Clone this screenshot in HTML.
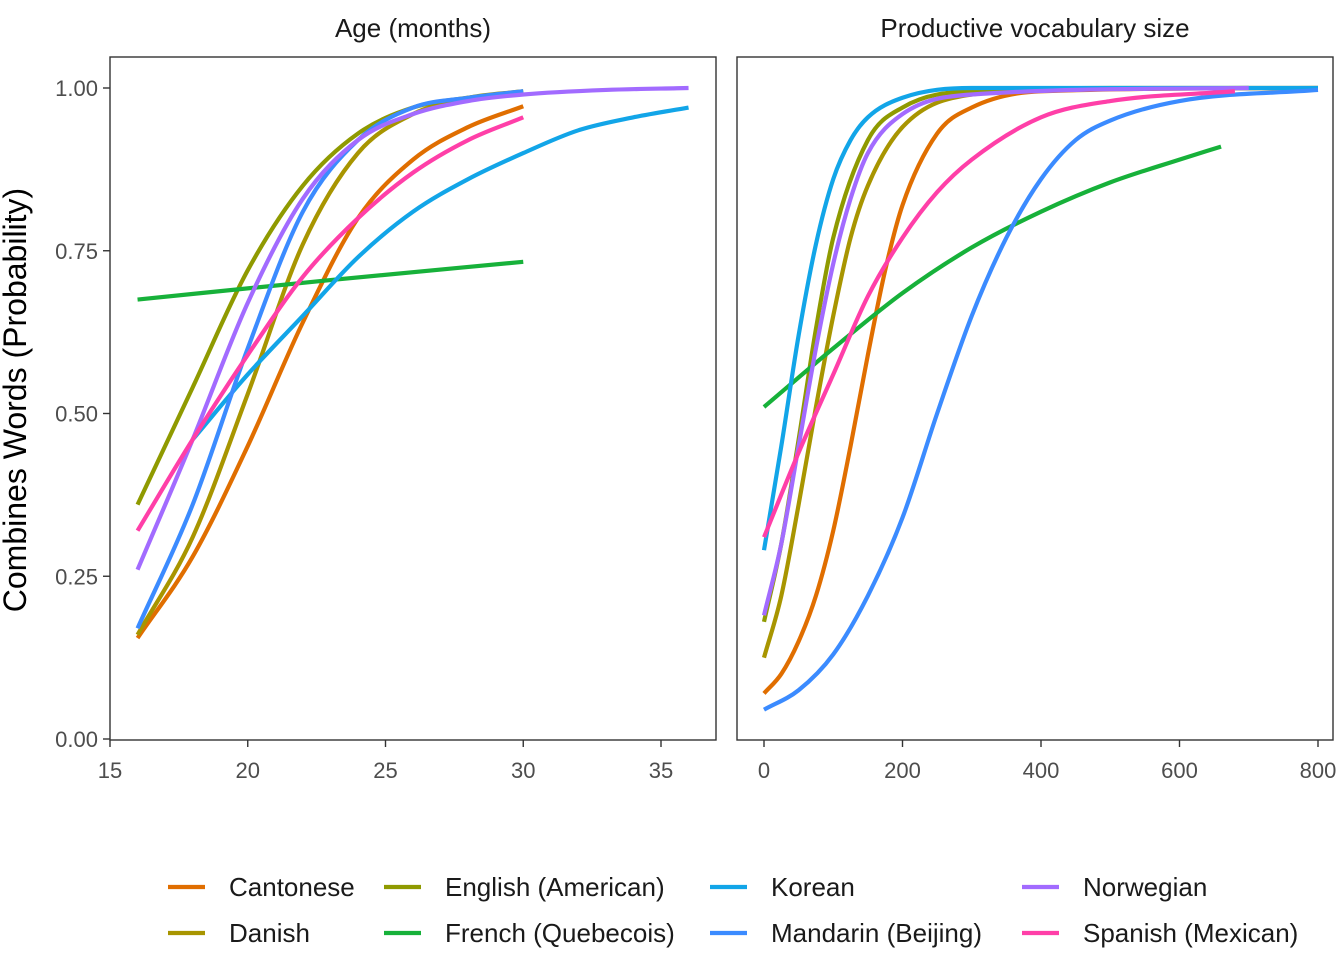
<!DOCTYPE html>
<html><head><meta charset="utf-8">
<style>
body{margin:0;background:#fff;}
svg text{font-family:"Liberation Sans",sans-serif;}
</style></head>
<body>
<svg id="chart" width="1344" height="960" xmlns="http://www.w3.org/2000/svg">
<rect width="1344" height="960" fill="#fff"/>
<g id="root"></g>
</svg>
<script>
const languages = ["Cantonese","Danish","English (American)","French (Quebecois)","Korean","Mandarin (Beijing)","Norwegian","Spanish (Mexican)"];
const colors = ["#E06E00","#A89500","#8F9A00","#17B13A","#12A5E8","#3B8BFF","#A26BFF","#FF3FA8"];
// Age panel: x values (months) and probability values
const ageX = [
 [16,18,20,22,24,26,28,30],
 [16,18,20,22,24,26,28,30],
 [16,18,20,22,24,26,28,30],
 [16,23,30],
 [18,20,22,24,26,28,30,32,34,36],
 [16,18,20,22,24,26,28,30],
 [16,18,20,22,24,26,28,30,33,36],
 [16,18,20,22,24,26,28,30]];
const ageY = [
 [0.155,0.28,0.45,0.64,0.80,0.89,0.94,0.972],
 [0.16,0.31,0.53,0.76,0.90,0.96,0.985,0.995],
 [0.36,0.54,0.72,0.85,0.93,0.97,0.985,0.993],
 [0.675,0.705,0.733],
 [0.46,0.56,0.65,0.74,0.81,0.86,0.90,0.935,0.955,0.97],
 [0.17,0.36,0.60,0.81,0.92,0.97,0.985,0.995],
 [0.26,0.46,0.67,0.83,0.92,0.96,0.98,0.99,0.997,1.0],
 [0.32,0.46,0.59,0.71,0.80,0.87,0.92,0.955]];
// Vocabulary panel
const vocX = [
 [0,25,50,75,100,125,150,175,200,250,300,400,800],
 [0,25,50,75,100,125,150,200,300,500,800],
 [0,25,50,75,100,150,200,300,700],
 [0,100,200,300,400,500,600,660],
 [0,25,50,75,100,125,150,200,300,800],
 [0,50,100,150,200,250,300,350,400,450,500,600,800],
 [0,25,50,75,100,125,150,200,300,700],
 [0,50,100,150,200,250,300,400,500,680]];
const vocY = [
 [0.07,0.10,0.15,0.22,0.32,0.45,0.59,0.72,0.82,0.93,0.97,0.995,1.0],
 [0.125,0.22,0.36,0.51,0.65,0.77,0.85,0.94,0.99,1.0,1.0],
 [0.18,0.30,0.46,0.63,0.77,0.92,0.97,0.995,1.0],
 [0.51,0.60,0.685,0.755,0.81,0.855,0.89,0.91],
 [0.29,0.45,0.62,0.76,0.86,0.92,0.955,0.985,1.0,1.0],
 [0.045,0.075,0.13,0.22,0.34,0.50,0.65,0.77,0.86,0.92,0.95,0.98,0.997],
 [0.19,0.30,0.45,0.60,0.73,0.83,0.90,0.96,0.99,1.0],
 [0.31,0.44,0.56,0.68,0.77,0.84,0.89,0.955,0.98,0.995]];
const yTicks = [0,0.25,0.5,0.75,1.0];
const yTickLabels = ["0.00","0.25","0.50","0.75","1.00"];
const ageTicks = [15,20,25,30,35];
const vocTicks = [0,200,400,600,800];

const NS="http://www.w3.org/2000/svg";
const root=document.getElementById('root');
function mk(tag,attrs,parent){const e=document.createElementNS(NS,tag);for(const k in attrs)e.setAttribute(k,attrs[k]);(parent||root).appendChild(e);return e;}
const yScale=v=>739-651*v;
const ageScale=v=>110+(v-15)*27.55;
const vocScale=v=>764+v*0.6925;

function monoPath(xs,ys){
 const n=xs.length;if(n<3){return "M"+xs.map((x,i)=>x+","+ys[i]).join("L");}
 const d=[],m=[];
 for(let i=0;i<n-1;i++)d.push((ys[i+1]-ys[i])/(xs[i+1]-xs[i]));
 m[0]=d[0];m[n-1]=d[n-2];
 for(let i=1;i<n-1;i++){m[i]=d[i-1]*d[i]<=0?0:(d[i-1]+d[i])/2;}
 for(let i=0;i<n-1;i++){if(d[i]===0){m[i]=0;m[i+1]=0;continue;}const a=m[i]/d[i],b=m[i+1]/d[i],s=a*a+b*b;if(s>9){const t=3/Math.sqrt(s);m[i]=t*a*d[i];m[i+1]=t*b*d[i];}}
 let p="M"+xs[0]+","+ys[0];
 for(let i=0;i<n-1;i++){const h=(xs[i+1]-xs[i])/3;p+="C"+(xs[i]+h)+","+(ys[i]+m[i]*h)+" "+(xs[i+1]-h)+","+(ys[i+1]-m[i+1]*h)+" "+xs[i+1]+","+ys[i+1];}
 return p;
}

function panel(name,x0,x1,title,xs,ys,xScale,ticks,showY){
 const g=mk('g',{});
 
 
 const t=mk('text',{x:(x0+x1)/2,y:37,'text-anchor':'middle','font-size':26,fill:'#1a1a1a'},g);t.textContent=title;
 
 
 for(let i=0;i<languages.length;i++){
  const px=xs[i].map(xScale),py=ys[i].map(yScale);
  const p=mk('path',{d:monoPath(px,py),fill:'none',stroke:colors[i],'stroke-width':4.2},g);
  
  
 }
 const fr=mk('rect',{x:x0,y:57,width:x1-x0,height:683,fill:'none',stroke:'#333','stroke-width':1.4},g);
 
 
 ticks.forEach(v=>{const x=xScale(v);mk('line',{x1:x,x2:x,y1:740,y2:747,stroke:'#333','stroke-width':1.4},g);
  const l=mk('text',{x:x,y:778,'text-anchor':'middle','font-size':22,fill:'#4d4d4d'},g);l.textContent=v;
  
  });
 if(showY){yTicks.forEach((v,i)=>{const y=yScale(v);mk('line',{x1:x0-7,x2:x0,y1:y,y2:y,stroke:'#333','stroke-width':1.4},g);
  const l=mk('text',{x:x0-12,y:y+8,'text-anchor':'end','font-size':22,fill:'#4d4d4d'},g);l.textContent=yTickLabels[i];
  
  });}
}
panel('age-panel',110,716,'Age (months)',ageX,ageY,ageScale,ageTicks,true);
panel('vocab-panel',737,1333,'Productive vocabulary size',vocX,vocY,vocScale,vocTicks,false);

const yt=mk('text',{x:0,y:0,transform:'translate(26,400) rotate(-90)','text-anchor':'middle','font-size':32,fill:'#000'});
yt.textContent='Combines Words (Probability)';



const colKey=[168,384,710,1022];
for(let i=0;i<languages.length;i++){
 const col=Math.floor(i/2),row=i%2;
 const y=887+row*46;
 const g=mk('g',{});
 
 
 mk('line',{x1:colKey[col],x2:colKey[col]+37,y1:y,y2:y,stroke:colors[i],'stroke-width':4.2},g);
 const t=mk('text',{x:colKey[col]+61,y:y+9,'font-size':26,fill:'#1a1a1a'},g);t.textContent=languages[i];
}
</script>
</body></html>
